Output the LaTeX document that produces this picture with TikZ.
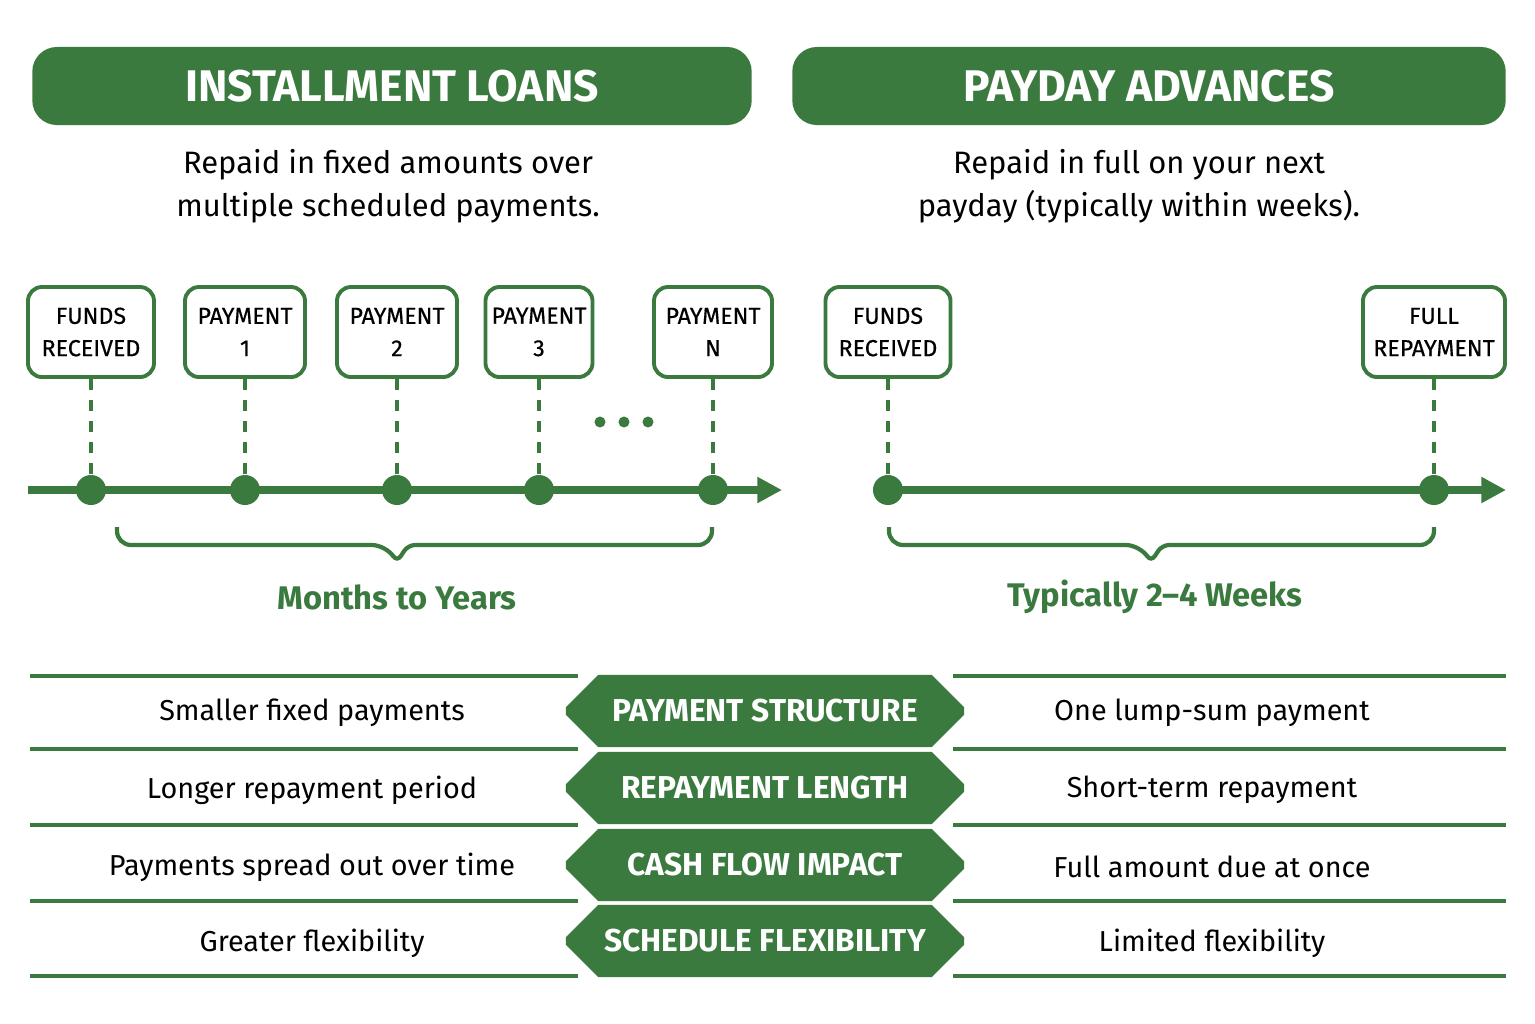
\documentclass[tikz,border=0pt]{standalone}
\usepackage{fontspec}
\setmainfont{Fira Sans}
\usetikzlibrary{arrows.meta, positioning, shapes.misc}
\definecolor{loangreen}{HTML}{3B7A3F}
\tikzset{%
	head box/.style={
		fill=loangreen, rounded corners=7pt, minimum height=0.78cm,
		text=white, font=\fontsize{12.6}{14}\selectfont\bfseries
	},
	step box/.style={
		draw=loangreen, line width=1.1pt, fill=white, rounded corners=4pt,
		minimum height=0.9cm, align=center, inner xsep=1pt,
		font=\fontsize{6.6}{9.2}\selectfont\addfontfeature{FakeBold=0.5}
	},
	step dot/.style={
		circle, fill=loangreen, minimum size=0.3cm, inner sep=0pt
	},
	feature tag/.style={
		chamfered rectangle, chamfered rectangle xsep=0.2cm,
		chamfered rectangle angle=45, inner xsep=0pt,
		fill=loangreen, text=white, minimum width=3.98cm, minimum height=0.72cm,
		font=\fontsize{9}{11}\selectfont\bfseries
	},
	body text/.style={font=\fontsize{8.8}{12.3}\selectfont, align=center},
	cell text/.style={font=\fontsize{8.2}{10}\selectfont},
	span label/.style={text=loangreen, font=\fontsize{9.3}{11}\selectfont\bfseries},
}
\begin{document}
\begin{tikzpicture}[x=0.01cm, y=-0.01cm]
	\useasboundingbox[fill=white] (0,0) rectangle (1535,1023);

	% Headers
	\node[head box, minimum width=7.19cm] (leftHead) at (392,86) {INSTALLMENT LOANS};
	\node[head box, minimum width=7.13cm] (rightHead) at (1149,86) {PAYDAY ADVANCES};
	\node[body text] (leftSub) at (388,186) {Repaid in fixed amounts over\\multiple scheduled payments.};
	\node[body text] (rightSub) at (1139,186) {Repaid in full on your next\\payday (typically within weeks).};

	% Installment timeline
	\coordinate (leftStart) at (28,490);
	\coordinate (leftEnd) at (782,490);
	\draw[loangreen, line width=2pt, -{Triangle[length=7pt,width=7pt]}] (leftStart) -- (leftEnd);
	\foreach \name/\x/\w/\txt in {fr/91/1.26/FUNDS\\RECEIVED, pa/245/1.2/PAYMENT\\1,
			pb/397/1.2/PAYMENT\\2, pc/539/1.07/PAYMENT\\3, pn/713/1.18/PAYMENT\\N} {
		\node[step box, minimum width=\w cm] (\name) at (\x,332) {\txt};
		\node[step dot] (\name dot) at (\x,490) {};
		\draw[loangreen, line width=1pt, dashed] (\name) -- (\name dot);
	}
	\foreach \x [count=\i] in {600,624,648}
		\node[circle, fill=loangreen, minimum size=0.11cm, inner sep=0pt] (gap\i) at (\x,422) {};

	% Payday timeline
	\coordinate (rightStart) at (875,490);
	\coordinate (rightEnd) at (1506,490);
	\draw[loangreen, line width=2pt, -{Triangle[length=7pt,width=7pt]}] (rightStart) -- (rightEnd);
	\foreach \name/\x/\w/\txt in {rfr/888/1.25/FUNDS\\RECEIVED, rfull/1434/1.42/FULL\\REPAYMENT} {
		\node[step box, minimum width=\w cm] (\name) at (\x,332) {\txt};
		\node[step dot] (\name dot) at (\x,490) {};
		\draw[loangreen, line width=1pt, dashed] (\name) -- (\name dot);
	}

	% Braces
	\draw[loangreen, line width=1.2pt, rounded corners=4pt]
		(117,527) -- (117,545) -- (386,545) to[rounded corners=2pt] (397,562) to[rounded corners=2pt] (408,545) -- (712,545) -- (712,527);
	\draw[loangreen, line width=1.2pt, rounded corners=4pt]
		(889,527) -- (889,545) -- (1140,545) to[rounded corners=2pt] (1151,562) to[rounded corners=2pt] (1162,545) -- (1434,545) -- (1434,527);
	\node[span label] (leftSpan) at (397,597) {Months to Years};
	\node[span label] (rightSpan) at (1155,597) {Typically 2–4 Weeks};

	% Comparison table
	\foreach \y in {676,749,825,901,976} {
		\draw[loangreen, line width=1pt] (30,\y) -- (578,\y);
		\draw[loangreen, line width=1pt] (953,\y) -- (1506,\y);
	}
	\foreach \y/\tag/\lft/\rgt [count=\i] in {
			711/PAYMENT STRUCTURE/Smaller fixed payments/One lump-sum payment,
			788/REPAYMENT LENGTH/Longer repayment period/Short-term repayment,
			865/CASH FLOW IMPACT/Payments spread out over time/Full amount due at once,
			941/SCHEDULE FLEXIBILITY/Greater flexibility/Limited flexibility} {
		\node[feature tag] (tag\i) at (765,\y) {\tag};
		\node[cell text] (left\i) at (312,\y+2) {\lft};
		\node[cell text] (right\i) at (1212,\y+2) {\rgt};
	}
\end{tikzpicture}
\end{document}
